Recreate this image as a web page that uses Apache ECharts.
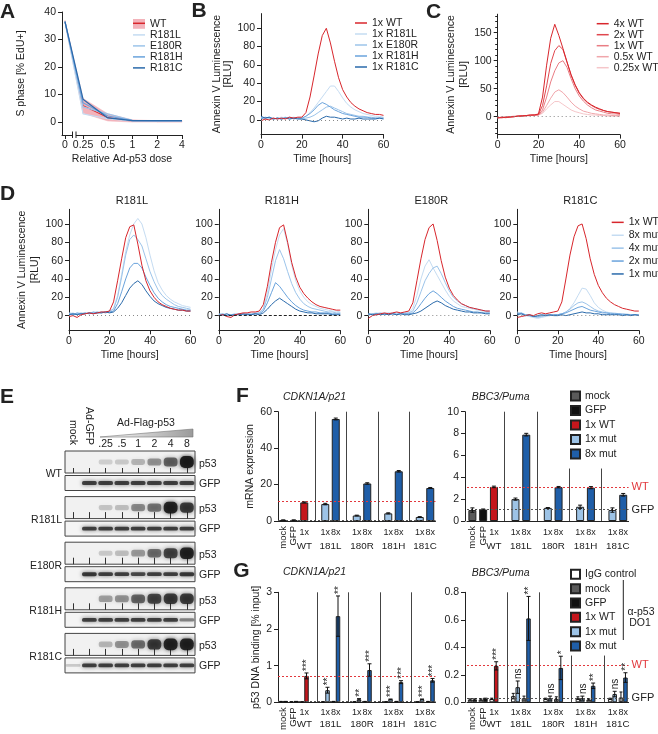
<!DOCTYPE html>
<html><head><meta charset="utf-8">
<script src="https://cdn.jsdelivr.net/npm/echarts@6/dist/echarts.min.js"></script>
<style>html,body{margin:0;padding:0;background:#fff}#c{width:658px;height:734px}</style>
</head><body><div id="c"></div>
<script>
// ================= DATA =================
// Panel A
const aDoses = [0, 0.25, 0.5, 1, 2, 4];
const aDoseLabels = ['0', '0.25', '0.5', '1', '2', '4'];
const aWT = [36.5, 6.0, 1.6, 0.3, 0.2, 0.2];
const aWTLow = [36.0, 3.2, 0.4, 0.0, 0.0, 0.0];
const aWTHigh = [37.0, 8.6, 3.0, 0.8, 0.5, 0.5];
const aR181L = [36.5, 3.0, 1.2, 0.3, 0.3, 0.3];
const aE180R = [36.5, 5.5, 3.0, 0.6, 0.5, 0.5];
const aR181H = [36.5, 7.0, 2.2, 0.5, 0.4, 0.4];
const aR181C = [36.5, 8.3, 1.5, 0.5, 0.5, 0.5];
const aYTicks = [0, 10, 20, 30, 40];

// Time courses (hours)
const hours = [0,2,4,6,8,10,12,14,16,18,20,22,24,26,28,30,32,34,36,38,40,42,44,46,48,50,52,54,56,58,60];
const rluTicks = [0, 20, 40, 60, 80, 100];

// Panel B
const bWT   = [-1,1,0,2,1,2,1,3,2,3,3, 8,25,48,72,92,100,84,64,46,33, 25,19,15,12,10,8,7,6,6,5];
const bR181L= [3,2,3,1,2,3,2,2,3,2,2, 4,8,13,19,25,31,37,37,31,24, 18,14,11,9,7,6,5,4,4,3];
const bE180R= [2,1,3,2,1,2,3,1,2,2,1, 2,3,5,8,11,14,15,13,11,9, 7,6,5,4,4,3,3,2,2,2];
const bR181H= [1,3,2,1,2,1,2,3,1,2,2, 4,7,11,16,19,17,14,11,9,7, 6,5,4,3,3,3,2,2,2,2];
const bR181C= [4,2,3,1,2,1,2,1,2,1,1, 0,-1,-2,-1,2,4,3,3,2,1, 2,1,1,2,1,1,1,1,2,1];

// Panel C
const c4x  = [-2,-2,-1,-1,0,1,1,2,3,3,5, 35,92,140,165,145,122,98,75,57,43, 33,26,21,17,14,11,9,8,7,6];
const c2x  = [-2,-1,-1,0,0,1,2,2,3,3,4, 20,55,95,118,127,120,97,74,56,42, 32,25,20,16,13,11,9,8,7,6];
const c1x  = [-2,-1,-2,0,0,1,1,2,2,3,3, 12,35,62,82,96,100,88,68,50,37, 28,21,16,12,10,8,6,5,5,4];
const c05x = [-2,-1,-1,0,1,1,1,2,2,3,3, 8,20,33,44,48,43,35,26,19,14, 10,8,6,5,4,3,3,2,2,2];
const c025x= [-2,-1,-1,0,0,1,1,1,2,2,3, 6,14,21,27,27,22,17,12,9,7, 5,4,3,3,2,2,1,1,1,0];
const cTicks = [0, 50, 100, 150];
const cMinor = [-30,-20,-10,0,10,20,30,40,50,60,70,80,90,100,110,120,130,140,150,160,170,180];

// Panel D
const dTitles = ['R181L', 'R181H', 'E180R', 'R181C'];
const dL_wt = [-1,0,-2,1,2,3,2,3,4,4,5, 15,38,62,85,97,99,78,55,38,27, 20,15,12,10,8,7,6,6,5,5];
const dL_8x = [2,3,1,2,3,2,3,4,3,4,4, 8,22,45,70,88,100,106,100,85,66, 49,36,28,22,18,15,13,11,10,9];
const dL_4x = [3,2,2,3,2,3,3,4,3,4,5, 7,20,42,66,83,88,83,76,62,48, 37,28,22,18,15,12,10,9,8,7];
const dL_2x = [2,1,3,2,3,2,4,3,4,3,4, 5,13,26,40,52,57,57,52,42,33, 25,19,15,12,10,9,8,7,6,6];
const dL_1x = [1,2,1,2,2,3,2,3,3,4,3, 4,8,14,22,30,35,38,34,27,21, 16,13,11,9,8,7,6,6,5,5];
const dH_wt = [0,1,-1,-2,1,2,3,3,4,4,5, 12,32,58,80,96,99,80,58,42,31, 24,19,15,12,10,9,8,7,6,6];
const dH_8x = [1,0,2,1,0,2,1,2,3,2,3, 8,25,50,72,88,95,78,55,38,27, 20,15,12,10,8,7,6,5,5,4];
const dH_4x = [2,1,0,1,2,1,2,1,2,3,3, 7,20,40,60,72,62,48,35,25,18, 13,10,8,7,6,5,4,4,3,3];
const dH_2x = [1,2,0,1,1,2,1,2,1,2,2, 5,14,25,36,32,26,20,15,11,8, 6,5,4,4,3,3,3,2,2,2];
const dH_1x = [0,1,2,0,1,1,2,1,1,2,1, 3,7,12,16,19,16,13,10,7,5, 4,3,3,2,2,2,2,1,1,1];
const dE_wt = [-3,0,1,2,3,2,3,4,3,4,5, 14,38,62,83,96,100,82,60,42,30, 22,17,13,11,9,8,7,6,5,5];
const dE_8x = [1,2,3,2,1,2,3,2,3,2,3, 8,22,40,54,61,52,44,36,28,21, 16,13,10,9,8,7,6,5,5,4];
const dE_4x = [2,1,2,3,2,3,2,3,2,3,3, 5,14,26,38,46,52,54,46,36,27, 20,16,13,11,9,8,7,6,5,5];
const dE_2x = [1,2,1,2,1,2,2,1,2,2,2, 3,7,13,19,24,27,24,20,16,13, 10,8,7,6,5,4,4,3,3,3];
const dE_1x = [2,1,2,1,2,1,2,1,2,1,1, 2,3,5,8,11,14,16,14,11,9, 7,6,5,4,4,3,3,3,2,2];
const dC_wt = [-2,-1,0,1,0,2,3,2,3,4,5, 15,40,66,86,98,100,84,62,45,33, 25,19,15,12,10,8,7,6,5,5];
const dC_8x = [4,2,0,-1,-2,-3,-2,-1,0,1,1, 2,4,8,14,22,30,29,22,14,9, 6,4,3,3,2,2,2,1,1,1];
const dC_4x = [3,2,1,0,-1,-2,-1,0,1,1,1, 2,4,7,11,14,15,13,10,7,5, 4,3,3,2,2,2,1,1,1,1];
const dC_2x = [2,3,1,0,-1,-1,0,1,0,1,1, 2,3,5,7,9,10,8,6,5,4, 3,3,2,2,2,1,1,1,1,1];
const dC_1x = [1,2,0,1,-1,0,1,0,1,0,0, 1,0,1,2,3,4,3,3,2,2, 1,1,1,1,1,0,1,0,1,0];

// Panel E (western blot band darkness 0..1)
const eLanes = ['mock', 'Ad-GFP', '.25', '.5', '1', '2', '4', '8'];
const eMutants = ['WT', 'R181L', 'E180R', 'R181H', 'R181C'];
const eP53_WT    = [0, 0, 0.10, 0.13, 0.22, 0.38, 0.60, 1.00];
const eP53_R181L = [0, 0, 0.15, 0.18, 0.42, 0.52, 0.95, 0.80];
const eP53_E180R = [0, 0, 0.13, 0.18, 0.35, 0.55, 0.75, 0.95];
const eP53_R181H = [0, 0, 0.32, 0.38, 0.60, 0.75, 0.80, 0.80];
const eP53_R181C = [0, 0, 0.22, 0.38, 0.55, 0.80, 0.95, 0.95];
const eGFP_WT    = [0, 0.85, 0.85, 0.85, 0.85, 0.85, 0.85, 0.85];
const eGFP_R181L = [0, 0.85, 0.85, 0.85, 0.85, 0.85, 0.85, 0.85];
const eGFP_E180R = [0, 0.90, 0.85, 0.85, 0.80, 0.85, 0.85, 0.90];
const eGFP_R181H = [0, 0.85, 0.85, 0.85, 0.85, 0.85, 0.85, 0.50];
const eGFP_R181C = [0.15, 0.85, 0.85, 0.85, 0.85, 0.85, 0.85, 0.85];

// Panels F / G
const fgCats = ['mock','GFP','1x WT','gap1','1x 181L','8x 181L','gap2','1x 180R','8x 180R','gap3','1x 181H','8x 181H','gap4','1x 181C','8x 181C'];
const fgKind = ['mock','GFP','1x WT','','1x mut','8x mut','','1x mut','8x mut','','1x mut','8x mut','','1x mut','8x mut'];
const fgGroups = ['WT', '181L', '180R', '181H', '181C'];
const fP21      = [0.5, 0.5, 10.2, null, 9.3, 56.0, null, 3.0, 20.6, null, 4.2, 27.3, null, 2.2, 18.1];
const fP21Err   = [0.1, 0.1, 0.3, null, 0.4, 0.5, null, 0.2, 0.4, null, 0.3, 0.4, null, 0.2, 0.3];
const fPuma     = [1.0, 1.05, 3.12, null, 2.0, 7.9, null, 1.2, 3.1, null, 1.3, 3.05, null, 1.0, 2.4];
const fPumaErr  = [0.2, 0.05, 0.07, null, 0.1, 0.12, null, 0.03, 0.06, null, 0.15, 0.1, null, 0.2, 0.12];
const gP21      = [0.02, 0.02, 0.72, null, 0.33, 2.35, null, 0.08, 0.88, null, 0.08, 0.55, null, 0.08, 0.60];
const gP21Err   = [0.005, 0.005, 0.08, null, 0.08, 0.55, null, 0.02, 0.17, null, 0.01, 0.04, null, 0.01, 0.05];
const gP21IgG   = [0.02, 0.01, 0.01, null, 0.01, 0.02, null, 0.01, 0.02, null, 0.01, 0.02, null, 0.01, 0.02];
const gP21IgGErr= [0.005, 0.005, 0.005, null, 0.005, 0.005, null, 0.005, 0.005, null, 0.005, 0.005, null, 0.005, 0.005];
const gP21Stars = ['', '', '***', '', '**', '**', '', '**', '***', '', '***', '***', '', '***', '***'];
const gPuma     = [0.02, 0.025, 0.265, null, 0.11, 0.61, null, 0.03, 0.25, null, 0.03, 0.12, null, 0.06, 0.18];
const gPumaErr  = [0.005, 0.005, 0.03, null, 0.045, 0.16, null, 0.015, 0.085, null, 0.015, 0.02, null, 0.02, 0.035];
const gPumaIgG  = [0.02, 0.02, 0.025, null, 0.045, 0.03, null, 0.025, 0.025, null, 0.03, 0.02, null, 0.025, 0.035];
const gPumaIgGErr=[0.005, 0.005, 0.005, null, 0.02, 0.015, null, 0.005, 0.015, null, 0.01, 0.005, null, 0.005, 0.04];
const gPumaStars= ['', '', '***', '', 'ns', '**', '', 'ns', '*', '', 'ns', '**', '', 'ns', '**'];
const refP21mRNA = {wt: 10.6, gfp: 0.5};
const refPumamRNA = {wt: 3.12, gfp: 1.05};
const refP21ChIP = {wt: 0.72, gfp: 0.02};
const refPumaChIP = {wt: 0.27, gfp: 0.03};

// ================= STYLE / BUILD =================
const FONT = '"Liberation Sans", Arial, Helvetica, sans-serif';
const INK = '#222';
const RED = '#d8262c';
const BL = ['#c5dcf2', '#9cc4ea', '#6aa3dc', '#2a6aab'];
const fgKinds = ['mock', 'GFP', '1x WT', '1x mut', '8x mut'];
const fgColors = {'mock':'#5a5a5a', 'GFP':'#111111', '1x WT':'#c4161c', '1x mut':'#9dc3e6', '8x mut':'#1f5ea8'};
const LINE_ICON = 'path://M0,0L12,0L12,1.5L0,1.5Z';

function mergeDeep(a, b) {
  for (const k in b) {
    const v = b[k];
    if (v && typeof v === 'object' && !Array.isArray(v) && typeof v !== 'function') a[k] = mergeDeep(a[k] || {}, v);
    else a[k] = v;
  }
  return a;
}
function baseAxis() {
  return {
    axisLine: {show: true, onZero: false, lineStyle: {color: INK, width: 1}},
    axisTick: {show: true, length: 4, lineStyle: {color: INK, width: 1}},
    axisLabel: {color: INK, fontSize: 10.5, fontFamily: FONT, margin: 6},
    splitLine: {show: false},
    nameTextStyle: {color: INK, fontSize: 10.5, fontFamily: FONT, lineHeight: 13}
  };
}
const axis = (extra) => mergeDeep(baseAxis(), extra);

const grids = [], xAxes = [], yAxes = [], series = [], legends = [], graphics = [];
const T = (text, x, y, o = {}) => ({
  type: 'text', x, y, rotation: o.rot || 0, silent: true, z: 50,
  style: {text, fill: o.color || INK, font: `${o.italic ? 'italic ' : ''}${o.bold ? 'bold ' : ''}${o.size || 10.5}px ${FONT}`,
    align: o.align || 'left', verticalAlign: o.va || 'middle'}
});
const legendBase = (o) => Object.assign({orient: 'vertical', padding: 0, itemGap: 0, selectedMode: false,
  formatter: n => n.split('|')[1]}, o,
  {textStyle: {color: INK, fontSize: 10.5, fontFamily: FONT, lineHeight: o.itemHeight}});

// ---------- Panel A ----------
const aPos = d => d === 0 ? -0.73 : Math.log2(d / 0.25);
{
  const gi = grids.push({left: 62, top: 12, width: 120, height: 123}) - 1;
  const tv = aDoses.map(aPos);
  const xi = xAxes.push(axis({gridIndex: gi, type: 'value', position: 'bottom', min: -0.85, max: 4,
    axisTick: {customValues: tv}, axisLabel: {margin: 5, customValues: tv,
      formatter: v => { const i = tv.findIndex(p => Math.abs(p - v) < 1e-6); return i < 0 ? '' : aDoseLabels[i]; }},
    name: 'Relative Ad-p53 dose', nameLocation: 'middle', nameGap: 18})) - 1;
  const yi = yAxes.push(axis({gridIndex: gi, type: 'value', position: 'left', min: -4.7, max: 40,
    axisTick: {customValues: aYTicks}, axisLabel: {customValues: aYTicks},
    name: 'S phase [% EdU+]', nameLocation: 'middle', nameGap: 34})) - 1;
  const pts = arr => aDoses.map((d, i) => [aPos(d), arr[i]]);
  // SD band of WT as polygons between consecutive doses
  series.push({type: 'custom', name: 'A|band', xAxisIndex: xi, yAxisIndex: yi, silent: true, z: 1, clip: false,
    data: aDoses.map((d, i) => [aPos(d), aWTLow[i], aWTHigh[i]]),
    renderItem: (params, api) => {
      const i = params.dataIndex;
      if (i >= aDoses.length - 1) return null;
      const x0 = aPos(aDoses[i]), x1 = aPos(aDoses[i + 1]);
      const pts4 = [api.coord([x0, aWTLow[i]]), api.coord([x1, aWTLow[i + 1]]), api.coord([x1, aWTHigh[i + 1]]), api.coord([x0, aWTHigh[i]])];
      return {type: 'polygon', shape: {points: pts4}, style: {fill: '#f3b3bb', stroke: '#f3b3bb', lineWidth: 0.5}};
    }});
  series.push({type: 'line', name: 'A|WT', xAxisIndex: xi, yAxisIndex: yi, data: pts(aWT), symbol: 'none', lineStyle: {color: RED, width: 1}, itemStyle: {color: RED}, silent: true, z: 2});
  [['A|R181L', aR181L, BL[0]], ['A|E180R', aE180R, BL[1]], ['A|R181H', aR181H, BL[2]], ['A|R181C', aR181C, BL[3]]].forEach(([n, d, c]) =>
    series.push({type: 'line', name: n, xAxisIndex: xi, yAxisIndex: yi, data: pts(d), symbol: 'none', lineStyle: {color: c, width: 1.2}, itemStyle: {color: c}, silent: true, z: 3}));
  legends.push(legendBase({left: 133, top: 18.4, itemWidth: 12, itemHeight: 9.8, icon: LINE_ICON,
    data: [{name: 'A|WT', icon: 'rect', itemStyle: {color: '#f3b3bb'}}, 'A|R181L', 'A|E180R', 'A|R181H', 'A|R181C']}));
  graphics.push({type: 'rect', shape: {x: 133, y: 19.3, width: 12, height: 8}, style: {fill: '#f3b3bb'}, z: 59, silent: true});
  graphics.push({type: 'line', shape: {x1: 133, y1: 23.3, x2: 145, y2: 23.3}, style: {stroke: RED, lineWidth: 1.5}, z: 60, silent: true});
  // axis break marks
  graphics.push({type: 'rect', shape: {x: 72.5, y: 132.5, width: 3.5, height: 5}, style: {fill: '#fff'}, z: 60, silent: true});
  graphics.push({type: 'line', shape: {x1: 72.5, y1: 131.5, x2: 72.5, y2: 138}, style: {stroke: INK, lineWidth: 1}, z: 61, silent: true});
  graphics.push({type: 'line', shape: {x1: 76, y1: 131.5, x2: 76, y2: 138}, style: {stroke: INK, lineWidth: 1}, z: 61, silent: true});
}

// ---------- Time-course panels ----------
function timePanel(p) {
  const gi = grids.push({left: p.left, top: p.top, width: p.width, height: p.height}) - 1;
  const xi = xAxes.push(axis({gridIndex: gi, type: 'value', position: 'bottom', min: 0, max: 60, interval: 20, axisLabel: {margin: 5},
    name: 'Time [hours]', nameLocation: 'middle', nameGap: 18})) - 1;
  const yi = yAxes.push(axis({gridIndex: gi, type: 'value', position: 'left', min: p.ymin, max: p.ymax,
    axisTick: {customValues: p.yticks}, axisLabel: {customValues: p.yticks},
    name: p.yname || '', nameLocation: 'middle', nameGap: p.nameGap || 25, nameTextStyle: {lineHeight: p.nameLH || 13}})) - 1;
  if (p.minor) yAxes.push(axis({gridIndex: gi, type: 'value', position: 'left', min: p.ymin, max: p.ymax, axisLine: {show: false},
    axisTick: {customValues: p.minor, length: 2.5}, axisLabel: {show: false}}));
  p.lines.forEach((l, k) => {
    const s = {type: 'line', name: l.name, xAxisIndex: xi, yAxisIndex: yi, data: hours.map((h, i) => [h, l.data[i]]),
      symbol: 'none', showSymbol: false, lineStyle: {color: l.color, width: 1}, itemStyle: {color: l.color}, silent: true, z: 3};
    if (k === 0 && p.zero) s.markLine = {silent: true, symbol: 'none', label: {show: false},
      lineStyle: {color: p.zero.color, type: p.zero.type, width: 1}, data: [{yAxis: 0}]};
    series.push(s);
  });
}
const ann = 'Annexin V Luminescence\n[RLU]';
timePanel({left: 261, top: 13.6, width: 122.5, height: 121, ymin: -16, ymax: 116, yticks: rluTicks, yname: ann, nameGap: 22, nameLH: 11,
  zero: {color: '#888', type: [1, 3]},
  lines: [{name: 'B|1x R181L', data: bR181L, color: BL[0]}, {name: 'B|1x E180R', data: bE180R, color: BL[1]},
    {name: 'B|1x R181H', data: bR181H, color: BL[2]}, {name: 'B|1x R181C', data: bR181C, color: BL[3]},
    {name: 'B|1x WT', data: bWT, color: RED}]});
legends.push(legendBase({left: 355, top: 17.5, itemWidth: 12, itemHeight: 10.3, icon: LINE_ICON,
  data: ['B|1x WT', 'B|1x R181L', 'B|1x E180R', 'B|1x R181H', 'B|1x R181C']}));

const CR = ['#d8262c', '#e0474e', '#e97d84', '#f0a6ab', '#f5c6c9'];
timePanel({left: 497.7, top: 14.2, width: 122.3, height: 120.4, ymin: -32, ymax: 183, yticks: cTicks, minor: cMinor, yname: ann, nameGap: 23,
  zero: {color: '#888', type: [1, 3]},
  lines: [{name: 'C|0.25x WT', data: c025x, color: CR[4]}, {name: 'C|0.5x WT', data: c05x, color: CR[3]},
    {name: 'C|1x WT', data: c1x, color: CR[2]}, {name: 'C|2x WT', data: c2x, color: CR[1]}, {name: 'C|4x WT', data: c4x, color: CR[0]}]});
legends.push(legendBase({left: 596.7, top: 18.2, itemWidth: 12, itemHeight: 10.25, icon: LINE_ICON,
  data: ['C|4x WT', 'C|2x WT', 'C|1x WT', 'C|0.5x WT', 'C|0.25x WT']}));

const dLefts = [69, 218.8, 368.3, 517.3];
const dSets = [[dL_wt, dL_8x, dL_4x, dL_2x, dL_1x], [dH_wt, dH_8x, dH_4x, dH_2x, dH_1x], [dE_wt, dE_8x, dE_4x, dE_2x, dE_1x], [dC_wt, dC_8x, dC_4x, dC_2x, dC_1x]];
dSets.forEach((s, k) => {
  const pre = 'D' + k + '|';
  timePanel({left: dLefts[k], top: 209.3, width: 121.5, height: 121, ymin: -16, ymax: 116, yticks: rluTicks,
    yname: k === 0 ? ann : '', nameGap: 21,
    zero: k === 1 ? {color: '#222', type: [3, 2]} : {color: '#888', type: [1, 3]},
    lines: [{name: pre + '8x mut', data: s[1], color: BL[0]}, {name: pre + '4x mut', data: s[2], color: BL[1]},
      {name: pre + '2x mut', data: s[3], color: BL[2]}, {name: pre + '1x mut', data: s[4], color: BL[3]},
      {name: pre + '1x WT', data: s[0], color: RED}]});
  graphics.push(T(dTitles[k], dLefts[k] + 63, 201, {align: 'center', size: 11}));
});
legends.push(legendBase({left: 611.7, top: 215.9, itemWidth: 12, itemHeight: 12.9, icon: LINE_ICON,
  data: ['D3|1x WT', 'D3|8x mut', 'D3|4x mut', 'D3|2x mut', 'D3|1x mut']}));

// ---------- Panel E (blots) ----------
const eP53 = [eP53_WT, eP53_R181L, eP53_E180R, eP53_R181H, eP53_R181C];
const eGFP = [eGFP_WT, eGFP_R181L, eGFP_E180R, eGFP_R181H, eGFP_R181C];
function bandRender(hBase, hGain, wFrac, alphaGain) {
  return (params, api) => {
    const v = api.value(2);
    if (!(v > 0)) return null;
    const p = api.coord([api.value(0), api.value(1)]);
    const w = api.size([1, 0])[0] * wFrac;
    const h = hBase + hGain * v;
    const a = 0.06 + alphaGain * v;
    return {type: 'rect', shape: {x: p[0] - w / 2, y: p[1] - h / 2, width: w, height: h, r: h / 2.5},
      style: {fill: `rgba(20,20,20,${a})`, shadowBlur: 4, shadowColor: `rgba(20,20,20,${a})`}};
  };
}
eMutants.forEach((m, g) => {
  const top = 451 + g * 45.6;
  // p53 box
  const gp = grids.push({left: 65, top: top, width: 130, height: 22, show: true, borderColor: '#444', borderWidth: 1, backgroundColor: '#f1f1f1'}) - 1;
  const xp = xAxes.push({gridIndex: gp, type: 'category', data: eLanes, position: 'top', axisLine: {show: false},
    axisTick: {show: true, alignWithLabel: true, length: g === 0 ? 5 : 6.5, lineStyle: {color: '#333'}},
    axisLabel: {show: g === 0, interval: 0, margin: 1, color: INK, fontSize: 10.5, fontFamily: FONT,
      formatter: v => (v === 'mock' || v === 'Ad-GFP') ? '' : v}, splitLine: {show: false}}) - 1;
  if (g === 0) xAxes.push({gridIndex: gp, type: 'category', data: eLanes, position: 'top', axisLine: {show: false}, axisTick: {show: false},
    axisLabel: {interval: 0, rotate: 90, margin: 6, color: INK, fontSize: 10.5, fontFamily: FONT,
      formatter: v => (v === 'mock' || v === 'Ad-GFP') ? v : ''}, splitLine: {show: false}});
  const yp = yAxes.push({gridIndex: gp, type: 'value', min: 0, max: 1, show: false}) - 1;
  series.push({type: 'custom', xAxisIndex: xp, yAxisIndex: yp, data: eP53[g].map((v, i) => [i, 0.5, v]),
    renderItem: bandRender(4, 8, 0.85, 0.85), silent: true, z: 3});
  // GFP box
  const gg = grids.push({left: 65, top: top + 24.5, width: 130, height: 15, show: true, borderColor: '#444', borderWidth: 1, backgroundColor: '#f4f4f4'}) - 1;
  const xg = xAxes.push({gridIndex: gg, type: 'category', data: eLanes, show: false}) - 1;
  const yg = yAxes.push({gridIndex: gg, type: 'value', min: 0, max: 1, show: false}) - 1;
  series.push({type: 'custom', xAxisIndex: xg, yAxisIndex: yg, data: eGFP[g].map((v, i) => [i, 0.5, v]),
    renderItem: bandRender(2.5, 1.5, 0.9, 0.8), silent: true, z: 3});
  graphics.push(T(m, 62, top + 23.5, {align: 'right'}));
  graphics.push(T('p53', 199, top + 13, {}));
  graphics.push(T('GFP', 199, top + 33, {}));
});
graphics.push({type: 'polygon', shape: {points: [[100, 437], [193, 429], [193, 437]]}, silent: true, z: 40,
  style: {fill: new echarts.graphic.LinearGradient(0, 0, 1, 0, [{offset: 0, color: '#ffffff'}, {offset: 1, color: '#9a9a9a'}]), stroke: '#777', lineWidth: 0.6}});
graphics.push(T('Ad-Flag-p53', 146, 423.3, {align: 'center'}));

// ---------- Panels F / G (bar charts) ----------
const fgGroupCenters = fgGroups.map(gn => { const idx = fgCats.map((c, i) => c.endsWith(' ' + gn) ? i : -1).filter(i => i >= 0); return idx.reduce((a, b) => a + b, 0) / idx.length; });
function errRender(offset, cap) {
  return (params, api) => {
    const x = api.value(0), lo = api.value(1), hi = api.value(2);
    const p1 = api.coord([x, lo]), p2 = api.coord([x, hi]);
    const cx = p1[0] + offset;
    const st = {stroke: '#111', lineWidth: 1};
    return {type: 'group', children: [
      {type: 'line', shape: {x1: cx, y1: p1[1], x2: cx, y2: p2[1]}, style: st},
      {type: 'line', shape: {x1: cx - cap, y1: p1[1], x2: cx + cap, y2: p1[1]}, style: st},
      {type: 'line', shape: {x1: cx - cap, y1: p2[1], x2: cx + cap, y2: p2[1]}, style: st}]};
  };
}
function barPanel(p) {
  const gi = grids.push({left: p.left, top: p.top, width: p.width, height: p.height}) - 1;
  const xi = xAxes.push(axis({gridIndex: gi, type: 'category', position: 'bottom', data: fgCats, axisTick: {show: false},
    axisLabel: {interval: 0, margin: p.row1, fontSize: 9, formatter: (v, i) => (fgKind[i] === '' || fgKind[i] === 'mock' || fgKind[i] === 'GFP') ? '' : v.split(' ')[0]}})) - 1;
  xAxes.push(axis({gridIndex: gi, type: 'category', position: 'bottom', data: fgCats, axisLine: {show: false}, axisTick: {show: false},
    axisLabel: {interval: 0, rotate: 90, margin: 5, fontSize: 9.5, formatter: (v, i) => (fgKind[i] === 'mock' || fgKind[i] === 'GFP') ? v : ''}}));
  xAxes.push(axis({gridIndex: gi, type: 'value', position: 'bottom', min: -0.5, max: 14.5, axisLine: {show: false}, axisTick: {show: false},
    axisLabel: {margin: p.row2, fontSize: 9.8, customValues: fgGroupCenters,
      formatter: v => { const i = fgGroupCenters.findIndex(c => Math.abs(c - v) < 1e-6); return i < 0 ? '' : fgGroups[i]; }}}));
  const yi = yAxes.push(axis({gridIndex: gi, type: 'value', position: 'left', min: 0, max: p.ymax, interval: p.interval, offset: p.yOffset || 0,
    axisLabel: {formatter: p.yFmt}, name: p.yname || '', nameLocation: 'middle', nameGap: p.nameGap || 20})) - 1;
  const pre = p.prefix;
  if (p.igg) series.push({type: 'bar', name: pre + 'IgG control', xAxisIndex: xi, yAxisIndex: yi,
    data: p.igg.map(v => v == null ? '-' : v), stack: pre + 'igg', barWidth: p.barWidth, barGap: '0%',
    itemStyle: {color: '#ffffff', borderColor: '#222', borderWidth: 1}, silent: true, z: 2});
  fgKinds.forEach((k, n) => {
    const s = {type: 'bar', name: pre + k, xAxisIndex: xi, yAxisIndex: yi,
      data: p.values.map((v, i) => fgKind[i] === k ? v : '-'), stack: pre + 'ab', barWidth: p.barWidth, barGap: '0%',
      itemStyle: {color: fgColors[k], borderColor: '#222', borderWidth: 1}, silent: true, z: 2};
    if (n === 0) {
      const seps = p.seps.map(([ix, top]) => [{coord: [ix, 0]}, {coord: [ix, top]}]);
      s.markLine = {silent: true, symbol: 'none', animation: false, label: {show: false}, lineStyle: {color: '#444', type: 'solid', width: 1},
        data: [
          {yAxis: p.ref.wt, lineStyle: {color: '#e2383d', type: [2, 2], width: 1},
            label: {show: !!p.refLabels, position: 'end', formatter: 'WT', color: '#e2383d', fontSize: 11, fontFamily: FONT, distance: 3}},
          {yAxis: p.ref.gfp, lineStyle: {color: '#555', type: [2, 2], width: 1},
            label: {show: !!p.refLabels, position: 'end', formatter: 'GFP', color: INK, fontSize: 11, fontFamily: FONT, distance: 3}}
        ].concat(seps)};
    }
    series.push(s);
  });
  const off = p.igg ? p.barWidth / 2 : 0;
  series.push({type: 'custom', xAxisIndex: xi, yAxisIndex: yi, silent: true, z: 5, clip: false,
    data: p.values.map((v, i) => v == null ? null : [i, Math.max(0, v - p.err[i]), v + p.err[i]]).filter(Boolean),
    renderItem: errRender(off, 2)});
  if (p.igg) series.push({type: 'custom', xAxisIndex: xi, yAxisIndex: yi, silent: true, z: 5, clip: false,
    data: p.igg.map((v, i) => v == null ? null : [i, Math.max(0, v - p.iggErr[i]), v + p.iggErr[i]]).filter(Boolean),
    renderItem: errRender(-off, 1.5)});
  if (p.stars) {
    const items = p.stars.map((s, i) => s ? {i, y: Math.max(p.values[i] + p.err[i], p.igg ? p.igg[i] + p.iggErr[i] : 0), s} : null).filter(Boolean);
    series.push({type: 'custom', xAxisIndex: xi, yAxisIndex: yi, silent: true, z: 6, clip: false,
      data: items.map(it => [it.i, it.y]),
      renderItem: (params, api) => {
        const it = items[params.dataIndex];
        const pt = api.coord([api.value(0), api.value(1)]);
        return {type: 'text', x: pt[0] + off + 1, y: pt[1] - 2, rotation: Math.PI / 2,
          style: {text: it.s, fill: INK, font: `10px ${FONT}`, align: 'left', verticalAlign: 'middle'}};
      }});
  }
}
const fgSepsFull = (top) => [[3, top], [6, top], [9, top], [12, top]];
barPanel({prefix: 'Fl|', left: 278, top: 411.7, width: 157.5, height: 109.3, ymax: 60, interval: 20, row1: 7, row2: 20,
  yname: 'mRNA expression', nameGap: 20, values: fP21, err: fP21Err, barWidth: 8, ref: refP21mRNA, seps: fgSepsFull(60)});
barPanel({prefix: 'Fr|', left: 467, top: 411.7, width: 161.6, height: 109.3, ymax: 10, interval: 2, yOffset: 2, row1: 7, row2: 20,
  values: fPuma, err: fPumaErr, barWidth: 8, ref: refPumamRNA, refLabels: true, seps: [[3, 10], [6, 10], [9, 4.8], [12, 4.8]]});
barPanel({prefix: 'Gl|', left: 278, top: 592.3, width: 157.5, height: 110, ymax: 3, interval: 1, row1: 5.5, row2: 17,
  yname: 'p53 DNA binding [% input]', nameGap: 15, values: gP21, err: gP21Err, igg: gP21IgG, iggErr: gP21IgGErr, stars: gP21Stars,
  barWidth: 4.5, ref: refP21ChIP, seps: fgSepsFull(3)});
barPanel({prefix: 'Gr|', left: 467, top: 592.3, width: 161.6, height: 110, ymax: 0.8, interval: 0.2, yOffset: 2, row1: 5.5, row2: 17,
  yFmt: v => v.toFixed(1), values: gPuma, err: gPumaErr, igg: gPumaIgG, iggErr: gPumaIgGErr, stars: gPumaStars,
  barWidth: 4.5, ref: refPumaChIP, refLabels: true, seps: [[3, 0.8], [6, 0.8], [9, 0.34], [12, 0.34]]});

legends.push(legendBase({left: 570, top: 390.5, itemWidth: 9, itemHeight: 9, itemGap: 3.5, icon: 'rect',
  data: ['Fr|mock', 'Fr|GFP', 'Fr|1x WT', 'Fr|1x mut', 'Fr|8x mut']}));
legends.push(legendBase({left: 570, top: 568.8, itemWidth: 9, itemHeight: 9, itemGap: 3.35, icon: 'rect',
  data: ['Gr|IgG control', 'Gr|mock', 'Gr|GFP', 'Gr|1x WT', 'Gr|1x mut', 'Gr|8x mut']}));
graphics.push({type: 'line', shape: {x1: 623.3, y1: 580, x2: 623.3, y2: 640}, style: {stroke: INK, lineWidth: 1}, silent: true, z: 50});
graphics.push(T('\u03b1-p53', 641, 611.7, {align: 'center'}));
graphics.push(T('DO1', 640, 623.3, {align: 'center'}));

graphics.push(T('CDKN1A/p21', 283, 396.7, {italic: true}));
graphics.push(T('BBC3/Puma', 471.7, 396.7, {italic: true}));
graphics.push(T('CDKN1A/p21', 283, 571.7, {italic: true}));
graphics.push(T('BBC3/Puma', 471.7, 573.3, {italic: true}));

// panel letters
[['A', 7.5, 12.5], ['B', 199, 11], ['C', 433.5, 12], ['D', 7.5, 194], ['E', 7, 397.5], ['F', 242.5, 396], ['G', 241.5, 571.5]]
  .forEach(([t, x, y]) => graphics.push(T(t, x, y, {bold: true, size: 21, align: 'center'})));

const chart = echarts.init(document.getElementById('c'), null, {renderer: 'canvas', width: 658, height: 734});
chart.setOption({
  animation: false, backgroundColor: '#ffffff', textStyle: {fontFamily: FONT},
  grid: grids, xAxis: xAxes, yAxis: yAxes, series: series, legend: legends,
  graphic: {elements: graphics}
});
</script></body></html>
